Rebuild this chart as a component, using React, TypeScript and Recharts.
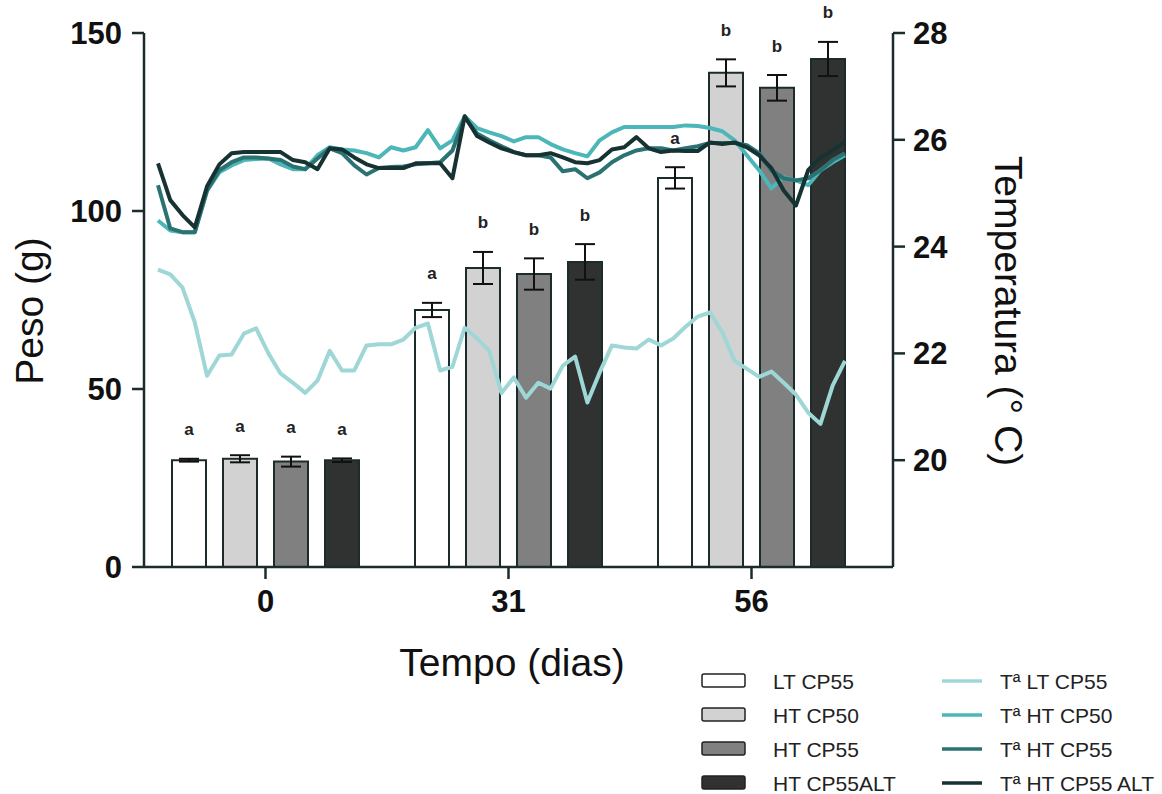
import React from 'react';
import { BarChart, Bar, ErrorBar, LabelList, LineChart, Line, XAxis, YAxis } from 'recharts';

const W = 1162;
const H = 794;

// weight per sampling day (g)
const groups = ['0', '31', '56'];
const ltCP55 = [30.0, 72.2, 109.3];
const ltCP55Err = [0.4, 2.0, 3.0];
const htCP50 = [30.4, 84.0, 138.8];
const htCP50Err = [1.0, 4.5, 3.8];
const htCP55 = [29.6, 82.3, 134.6];
const htCP55Err = [1.4, 4.4, 3.6];
const htCP55Alt = [30.0, 85.7, 142.7];
const htCP55AltErr = [0.5, 5.0, 4.8];

const ltLetters = ['a', 'a', 'a'];
const ht50Letters = ['a', 'b', 'b'];
const ht55Letters = ['a', 'b', 'b'];
const altLetters = ['a', 'b', 'b'];

// daily water temperature (°C)
const days = [0, 1, 2, 3, 4, 5, 6, 7, 8, 9, 10, 11, 12, 13, 14, 15, 16, 17, 18, 19, 20, 21, 22, 23, 24, 25, 26, 27, 28, 29, 30, 31, 32, 33, 34, 35, 36, 37, 38, 39, 40, 41, 42, 43, 44, 45, 46, 47, 48, 49, 50, 51, 52, 53, 54, 55, 56];
const tLT = [23.57, 23.48, 23.23, 22.58, 21.58, 21.96, 21.98, 22.37, 22.47, 22.0, 21.62, 21.45, 21.26, 21.49, 22.05, 21.68, 21.68, 22.15, 22.17, 22.17, 22.26, 22.48, 22.56, 21.68, 21.75, 22.48, 22.28, 22.05, 21.26, 21.55, 21.17, 21.45, 21.34, 21.77, 21.94, 21.08, 21.64, 22.15, 22.11, 22.09, 22.26, 22.15, 22.28, 22.5, 22.69, 22.77, 22.39, 21.86, 21.71, 21.56, 21.66, 21.45, 21.23, 20.89, 20.68, 21.4, 21.86];
const tHT50 = [24.49, 24.3, 24.27, 24.27, 25.05, 25.39, 25.52, 25.62, 25.64, 25.65, 25.54, 25.45, 25.45, 25.71, 25.86, 25.82, 25.8, 25.75, 25.67, 25.86, 25.8, 25.86, 26.18, 25.84, 25.99, 26.44, 26.22, 26.14, 26.07, 25.97, 26.05, 26.05, 25.92, 25.82, 25.75, 25.69, 25.99, 26.14, 26.24, 26.24, 26.24, 26.24, 26.24, 26.27, 26.26, 26.22, 26.16, 25.99, 25.71, 25.43, 25.09, 25.3, 25.24, 25.15, 25.43, 25.58, 25.71];
const tHT55 = [25.15, 24.34, 24.27, 24.27, 25.05, 25.43, 25.58, 25.67, 25.67, 25.65, 25.62, 25.5, 25.45, 25.65, 25.84, 25.75, 25.52, 25.35, 25.47, 25.49, 25.5, 25.54, 25.56, 25.58, 25.8, 26.42, 26.12, 25.99, 25.88, 25.77, 25.71, 25.71, 25.67, 25.41, 25.45, 25.28, 25.39, 25.58, 25.71, 25.8, 25.84, 25.84, 25.8, 25.84, 25.88, 25.94, 25.94, 25.94, 25.9, 25.75, 25.43, 25.28, 25.24, 25.28, 25.43, 25.62, 25.75];
const tAlt = [25.56, 24.87, 24.59, 24.36, 25.13, 25.54, 25.75, 25.77, 25.77, 25.77, 25.77, 25.62, 25.58, 25.45, 25.84, 25.82, 25.67, 25.54, 25.47, 25.47, 25.47, 25.56, 25.56, 25.56, 25.28, 26.44, 26.07, 25.95, 25.84, 25.77, 25.71, 25.71, 25.75, 25.67, 25.58, 25.56, 25.62, 25.82, 25.86, 26.05, 25.84, 25.77, 25.8, 25.79, 25.79, 25.95, 25.92, 25.95, 25.86, 25.71, 25.47, 25.05, 24.77, 25.43, 25.67, 25.8, 25.97];

const barData = groups.map((g, i) => ({
  day: g,
  lt: ltCP55[i], ltErr: ltCP55Err[i],
  ht50: htCP50[i], ht50Err: htCP50Err[i],
  ht55: htCP55[i], ht55Err: htCP55Err[i],
  alt: htCP55Alt[i], altErr: htCP55AltErr[i],
}));

const tempData = days.map((d, i) => ({ day: d, tLT: tLT[i], tHT50: tHT50[i], tHT55: tHT55[i], tAlt: tAlt[i] }));

const AXIS = '#1c2b2b';
const FONT = '"Liberation Sans", Arial, sans-serif';

const tickStyle = { fontSize: 31, fontWeight: 700, fill: '#111', fontFamily: FONT };

const letterLabel = (letters: string[], errs: number[]) => (props: any) => {
  const { x, y, width, height, index, value } = props;
  const pxPer = Number(height) / Number(value);
  const errTop = Number(y) - errs[index] * pxPer;
  return (
    <text x={Number(x) + Number(width) / 2} y={errTop - 29} textAnchor="middle" dominantBaseline="central"
      style={{ fontSize: 17, fontWeight: 700, fill: '#222', fontFamily: FONT }}>
      {letters[index]}
    </text>
  );
};

const barLegend = [
  { name: 'LT CP55', fill: '#ffffff' },
  { name: 'HT CP50', fill: '#d2d2d2' },
  { name: 'HT CP55', fill: '#808080' },
  { name: 'HT CP55ALT', fill: '#303232' },
];
const lineLegend = [
  { name: 'Tª LT CP55', color: '#9fd6d6' },
  { name: 'Tª HT CP50', color: '#4cb6b8' },
  { name: 'Tª HT CP55', color: '#2b7373' },
  { name: 'Tª HT CP55 ALT', color: '#173232' },
];

export default function App() {
  return (
    <div style={{ position: 'absolute', left: 0, top: 0, width: W, height: H, background: '#fff' }}>
      <div style={{ position: 'absolute', left: 0, top: 0 }}>
        <BarChart width={W} height={H} data={barData} margin={{ top: 33, right: 269, bottom: 197, left: 84 }}
          barCategoryGap={28} barGap={17}>
          <XAxis dataKey="day" height={30} padding={{ left: 0, right: 20 }} tickSize={12} tickMargin={11}
            tick={tickStyle} axisLine={{ stroke: AXIS, strokeWidth: 2.5 }} tickLine={{ stroke: AXIS, strokeWidth: 2.5 }} />
          <YAxis domain={[0, 150]} ticks={[0, 50, 100, 150]} width={60} tickSize={12} tickMargin={10}
            tick={tickStyle} axisLine={{ stroke: AXIS, strokeWidth: 2.5 }} tickLine={{ stroke: AXIS, strokeWidth: 2.5 }} />
          <Bar dataKey="lt" fill="#ffffff" stroke={AXIS} strokeWidth={2} isAnimationActive={false}>
            <ErrorBar dataKey="ltErr" width={10} strokeWidth={2} stroke="#111" />
            <LabelList dataKey="lt" content={letterLabel(ltLetters, ltCP55Err)} />
          </Bar>
          <Bar dataKey="ht50" fill="#d2d2d2" stroke={AXIS} strokeWidth={2} isAnimationActive={false}>
            <ErrorBar dataKey="ht50Err" width={10} strokeWidth={2} stroke="#111" />
            <LabelList dataKey="ht50" content={letterLabel(ht50Letters, htCP50Err)} />
          </Bar>
          <Bar dataKey="ht55" fill="#808080" stroke={AXIS} strokeWidth={2} isAnimationActive={false}>
            <ErrorBar dataKey="ht55Err" width={10} strokeWidth={2} stroke="#111" />
            <LabelList dataKey="ht55" content={letterLabel(ht55Letters, htCP55Err)} />
          </Bar>
          <Bar dataKey="alt" fill="#303232" stroke={AXIS} strokeWidth={2} isAnimationActive={false}>
            <ErrorBar dataKey="altErr" width={10} strokeWidth={2} stroke="#111" />
            <LabelList dataKey="alt" content={letterLabel(altLetters, htCP55AltErr)} />
          </Bar>
        </BarChart>
      </div>
      <div style={{ position: 'absolute', left: 0, top: 0 }}>
        <LineChart width={W} height={H} data={tempData} margin={{ top: 33, right: 209, bottom: 227, left: 144 }}>
          <XAxis dataKey="day" type="number" domain={[0, 56]} padding={{ left: 14, right: 48 }} hide />
          <YAxis orientation="right" domain={[18, 28]} ticks={[20, 22, 24, 26, 28]} width={60} tickSize={12}
            tickMargin={8} tick={tickStyle} axisLine={{ stroke: AXIS, strokeWidth: 2.5 }} tickLine={{ stroke: AXIS, strokeWidth: 2.5 }} />
          <Line dataKey="tLT" stroke="#9fd6d6" strokeWidth={4} dot={false} strokeLinejoin="round" isAnimationActive={false} />
          <Line dataKey="tHT50" stroke="#4cb6b8" strokeWidth={4} dot={false} strokeLinejoin="round" isAnimationActive={false} />
          <Line dataKey="tHT55" stroke="#2b7373" strokeWidth={4} dot={false} strokeLinejoin="round" isAnimationActive={false} />
          <Line dataKey="tAlt" stroke="#173232" strokeWidth={4} dot={false} strokeLinejoin="round" isAnimationActive={false} />
        </LineChart>
      </div>
      <svg width={W} height={H} style={{ position: 'absolute', left: 0, top: 0, pointerEvents: 'none' }}>
        <g style={{ fontFamily: FONT, fill: '#111' }}>
          <text transform="translate(29,311) rotate(-90)" textAnchor="middle" dominantBaseline="central" fontSize={39}>Peso (g)</text>
          <text transform="translate(1008,311) rotate(90)" textAnchor="middle" dominantBaseline="central" fontSize={39}>Temperatura (° C)</text>
          <text x={512} y={662} textAnchor="middle" dominantBaseline="central" fontSize={39}>Tempo (dias)</text>
        </g>
        {barLegend.map((b, i) => (
          <g key={b.name}>
            <rect x={702} y={674 + i * 34} width={43} height={13} rx={2} fill={b.fill} stroke="#222" strokeWidth={1.5} />
            <text x={773} y={681 + i * 34} dominantBaseline="central" fontSize={21} fill="#222" style={{ fontFamily: FONT }}>{b.name}</text>
          </g>
        ))}
        {lineLegend.map((l, i) => (
          <g key={l.name}>
            <line x1={942} x2={982} y1={681 + i * 34} y2={681 + i * 34} stroke={l.color} strokeWidth={3.5} />
            <text x={1000} y={681 + i * 34} dominantBaseline="central" fontSize={21} fill="#222" style={{ fontFamily: FONT }}>{l.name}</text>
          </g>
        ))}
      </svg>
    </div>
  );
}
